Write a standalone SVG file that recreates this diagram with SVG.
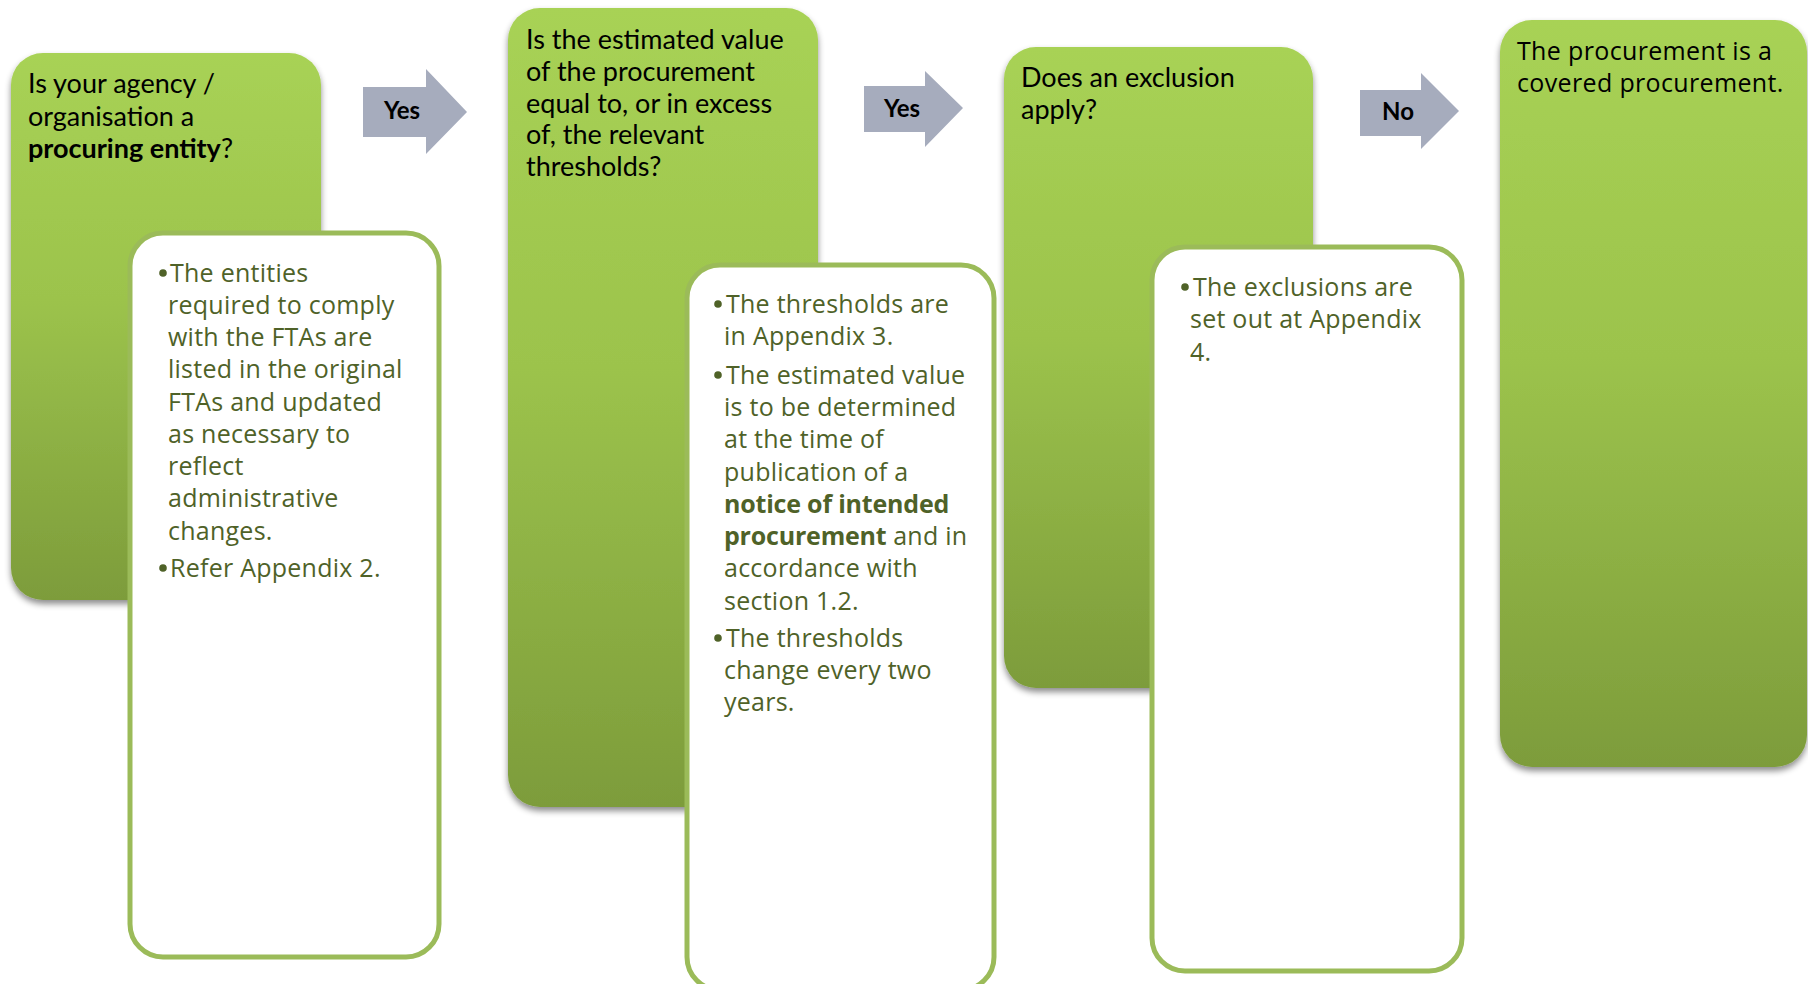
<svg xmlns="http://www.w3.org/2000/svg" width="1808" height="984" viewBox="0 0 1808 984">
<defs>
<linearGradient id="gg" x1="0" y1="0" x2="0" y2="1">
<stop offset="0" stop-color="#A8D255"/>
<stop offset="0.45" stop-color="#9CC34C"/>
<stop offset="1" stop-color="#7D9C3B"/>
</linearGradient>
<filter id="sh" x="-10%" y="-10%" width="120%" height="120%">
<feDropShadow dx="0" dy="4" stdDeviation="3" flood-color="#000" flood-opacity="0.45"/>
</filter>
</defs>
<style>
.g{fill:url(#gg);filter:url(#sh)}
.w{fill:#fff;stroke:#9BBB59;stroke-width:5}
.a{fill:#A6ACBD}
.q{font-family:Lato,"Liberation Sans",sans-serif;font-size:27px;fill:#000}
.t{font-family:"Open Sans","Liberation Sans",sans-serif;font-size:25px;letter-spacing:0.25px;fill:#4F6228}
.al{font-family:Lato,"Liberation Sans",sans-serif;font-size:24px;font-weight:bold;fill:#000;text-anchor:middle}
.b{font-weight:bold}
.t .b{letter-spacing:-0.2px}
</style>
<rect width="1808" height="984" fill="#fff"/>

<g id="node1">
<rect class="g" x="11" y="53" width="310" height="547" rx="32"/>
<text class="q" x="28"><tspan x="28" y="93">Is your agency /</tspan><tspan x="28" y="126">organisation a</tspan><tspan x="28" y="158"><tspan class="b">procuring entity</tspan>?</tspan></text>
</g>
<g id="note1">
<rect class="w" x="130" y="233" width="309" height="724" rx="33"/>
<g class="t">
<circle cx="163" cy="273" r="3.8" fill="#4F6228"/>
<text x="170" y="282">The entities</text>
<text x="168" y="314">required to comply</text>
<text x="168" y="346">with the FTAs are</text>
<text x="168" y="378">listed in the original</text>
<text x="168" y="411">FTAs and updated</text>
<text x="168" y="443">as necessary to</text>
<text x="168" y="475">reflect</text>
<text x="168" y="507">administrative</text>
<text x="168" y="540">changes.</text>
<circle cx="163" cy="568" r="3.8" fill="#4F6228"/>
<text x="170" y="577">Refer Appendix 2.</text>
</g>
</g>

<g id="node2">
<rect class="g" x="508" y="8" width="310" height="799" rx="32"/>
<text class="q"><tspan x="526" y="49">Is the estimated value</tspan><tspan x="526" y="81">of the procurement</tspan><tspan x="526" y="113">equal to, or in excess</tspan><tspan x="526" y="144">of, the relevant</tspan><tspan x="526" y="176">thresholds?</tspan></text>
</g>
<g id="note2">
<rect class="w" x="687" y="265" width="307" height="725" rx="33"/>
<g class="t">
<circle cx="718" cy="304" r="3.8" fill="#4F6228"/>
<text x="726" y="313">The thresholds are</text>
<text x="724" y="345">in Appendix 3.</text>
<circle cx="718" cy="375" r="3.8" fill="#4F6228"/>
<text x="726" y="384">The estimated value</text>
<text x="724" y="416">is to be determined</text>
<text x="724" y="448">at the time of</text>
<text x="724" y="481">publication of a</text>
<text x="724" y="513"><tspan class="b">notice of intended</tspan></text>
<text x="724" y="545"><tspan class="b">procurement</tspan> and in</text>
<text x="724" y="577">accordance with</text>
<text x="724" y="610">section 1.2.</text>
<circle cx="718" cy="638" r="3.8" fill="#4F6228"/>
<text x="726" y="647">The thresholds</text>
<text x="724" y="679">change every two</text>
<text x="724" y="711">years.</text>
</g>
</g>

<g id="node3">
<rect class="g" x="1004" y="47" width="309" height="641" rx="32"/>
<text class="q"><tspan x="1021" y="87">Does an exclusion</tspan><tspan x="1021" y="119">apply?</tspan></text>
</g>
<g id="note3">
<rect class="w" x="1152" y="247" width="310" height="724" rx="33"/>
<g class="t">
<circle cx="1185" cy="287" r="3.8" fill="#4F6228"/>
<text x="1193" y="296">The exclusions are</text>
<text x="1190" y="328">set out at Appendix</text>
<text x="1190" y="361">4.</text>
</g>
</g>

<g id="node4">
<rect class="g" x="1500" y="20" width="307" height="747" rx="32"/>
<text style="font-family:'Open Sans','Liberation Sans',sans-serif;font-size:25px;letter-spacing:0.35px;fill:#000"><tspan x="1517" y="60">The procurement is a</tspan><tspan x="1517" y="92">covered procurement.</tspan></text>
</g>

<g id="connectors">
<g id="c1"><polygon class="a" points="363,87 426,87 426,69 467,112 426,154 426,137 363,137"/><text class="al" x="402" y="119">Yes</text></g>
<g id="c2"><polygon class="a" points="864,86 925,86 925,71 963,108 925,147 925,132 864,132"/><text class="al" x="902" y="117">Yes</text></g>
<g id="c3"><polygon class="a" points="1360,90 1421,90 1421,73 1459,111 1421,149 1421,136 1360,136"/><text class="al" x="1398" y="120">No</text></g>
</g>
</svg>
